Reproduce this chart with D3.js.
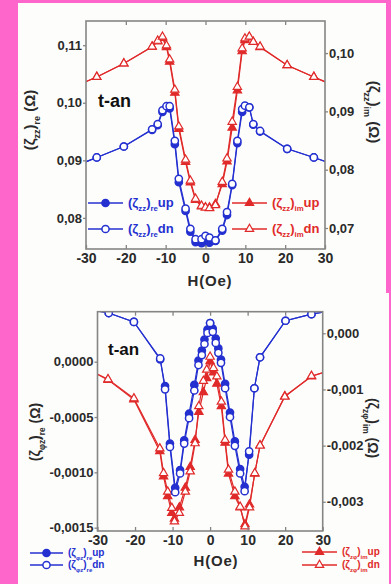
<!DOCTYPE html>
<html>
<head>
<meta charset="utf-8">
<script src="https://cdnjs.cloudflare.com/ajax/libs/d3/7.8.5/d3.min.js"></script>
<style>
body { margin: 0; background: #ff66cc; }
svg { display: block; }
text { font-family: "Liberation Sans", Arial, sans-serif; }
</style>
</head>
<body>
<svg width="391" height="584"></svg>
<script>
// ---- top chart: (zeta_zz) re / im vs H ----
var hTop = [-32, -27.3, -20.5, -13.4, -12, -10.8, -9.8, -9, -7.7, -6.7, -5, -3.8, -2.5, -1, 0, 1, 2.5, 4.2, 5.4, 6.7, 8, 9.2, 9.9, 11, 12, 13.7, 20.5, 27.2, 32];
var reDnTop = [0.0892, 0.0905, 0.0924, 0.0954, 0.0963, 0.0987, 0.0994, 0.0994, 0.0934, 0.0868, 0.0816, 0.0781, 0.0763, 0.0763, 0.0769, 0.0766, 0.0761, 0.0781, 0.0810, 0.0859, 0.0934, 0.0989, 0.0995, 0.0992, 0.0963, 0.0951, 0.0920, 0.0905, 0.0893];
var reUpTop = [0.0892, 0.0905, 0.0924, 0.0953, 0.0961, 0.0984, 0.0992, 0.0990, 0.0928, 0.0862, 0.0812, 0.0776, 0.0758, 0.0756, 0.0758, 0.0757, 0.0760, 0.0778, 0.0805, 0.0857, 0.0930, 0.0984, 0.0993, 0.0992, 0.0962, 0.0950, 0.0920, 0.0905, 0.0893];
var imDnTop = [0.0945, 0.0959, 0.0982, 0.1011, 0.1021, 0.1028, 0.1013, 0.0989, 0.0937, 0.0874, 0.0817, 0.0781, 0.0750, 0.0738, 0.0735, 0.0734, 0.0739, 0.0779, 0.0819, 0.0882, 0.0942, 0.1008, 0.1025, 0.1028, 0.1019, 0.1011, 0.0979, 0.0959, 0.0945];
var imUpTop = [0.0945, 0.0959, 0.0982, 0.1011, 0.1020, 0.1026, 0.1010, 0.0985, 0.0932, 0.0870, 0.0813, 0.0778, 0.0748, 0.0737, 0.0735, 0.0735, 0.0741, 0.0775, 0.0814, 0.0872, 0.0936, 0.1003, 0.1022, 0.1027, 0.1019, 0.1010, 0.0979, 0.0959, 0.0945];

// ---- bottom chart: (zeta_phiz) re / (zeta_zphi) im vs H ----
var hBotRe = [-32, -27, -20.3, -13.3, -12, -10.7, -9.3, -8, -6.9, -5.6, -4.2, -3.1, -2.2, -1.5, -0.7, 0, 0.7, 1.5, 2.2, 2.9, 4, 5.3, 6.6, 8, 9.2, 10.4, 11.8, 13.3, 20.1, 27, 32];
var reDnBot = [0.00047, 0.00044, 0.00036, 0.00003, -0.00025, -0.00077, -0.00118, -0.00101, -0.00074, -0.00051, -0.00026, -0.00003, 0.00006, 0.00016, 0.00026, 0.00035, 0.00027, 0.00017, 0.00008, -0.00001, -0.00024, -0.0005, -0.00076, -0.00101, -0.00117, -0.00081, -0.00024, 0.00004, 0.00037, 0.00043, 0.00046];
var reUpBot = [0.00047, 0.00044, 0.00036, 0.00002, -0.00022, -0.00074, -0.00114, -0.00098, -0.00071, -0.00047, -0.00021, 0.00001, 0.00010, 0.00020, 0.00029, 0.00035, 0.00030, 0.00021, 0.00012, 0.00002, -0.00020, -0.00046, -0.00072, -0.00097, -0.00113, -0.00084, -0.00024, 0.00004, 0.00037, 0.00043, 0.00046];
var hBotIm = [-32, -27.2, -20.3, -13.4, -12.4, -11.3, -10.2, -9.5, -8.2, -6.6, -5.3, -4, -3, -1.8, -0.9, 0, 0.9, 1.8, 3, 4, 4.9, 6.6, 8, 9.3, 10.5, 11.9, 13.3, 19.9, 27, 32];
var imDnBot = [-0.00066, -0.00082, -0.00116, -0.00205, -0.00249, -0.00282, -0.00311, -0.00335, -0.0032, -0.00282, -0.00246, -0.00196, -0.0013, -0.00085, -0.00065, -0.00042, -0.00062, -0.00077, -0.00122, -0.0019, -0.00243, -0.00282, -0.00309, -0.00344, -0.0031, -0.00249, -0.002, -0.00113, -0.00076, -0.00066];
var imUpBot = [-0.00066, -0.00083, -0.00118, -0.0021, -0.00255, -0.0029, -0.0032, -0.0033, -0.0031, -0.00275, -0.00238, -0.0019, -0.0014, -0.00105, -0.0008, -0.0005, -0.0007, -0.0009, -0.0013, -0.00195, -0.0025, -0.0029, -0.0031, -0.0034, -0.00305, -0.0025, -0.002, -0.00112, -0.00077, -0.00066];

// ---- ticks ----
var xTicks = [-30, -20, -10, 0, 10, 20, 30];
var topLeftTicks = [0.08, 0.09, 0.10, 0.11];
var topRightTicks = [0.07, 0.08, 0.09, 0.10];
var botLeftTicks = [0, -0.0005, -0.001, -0.0015];
var botRightTicks = [0, -0.001, -0.002, -0.003];

var blue = "#2430d0",
    red = "#e02a2a",
    frameCol = "#858585",
    labelCol = "#2a2a2a";

var loc = d3.formatLocale({decimal: ",", thousands: ".", grouping: [3], currency: ["", ""], minus: "-"});

var svg = d3.select("svg");

// white panels on the pink page
svg.append("rect").attr("x", 18).attr("y", 3).attr("width", 368).attr("height", 291).attr("fill", "#fdfdfb");
svg.append("rect").attr("x", 18).attr("y", 293).attr("width", 371).attr("height", 291).attr("fill", "#fdfdfb");

// text with subscripts; parts beginning with "_" are subscripts
function richText(g, x, y, parts, size, color, rot, anchor) {
  var t = g.append("text")
    .attr("transform", "translate(" + x + "," + y + ") rotate(" + rot + ")")
    .attr("text-anchor", anchor)
    .attr("fill", color)
    .attr("font-weight", "bold")
    .attr("font-size", size);
  var down = false;
  parts.forEach(function(p) {
    var sub = p.charAt(0) === "_";
    var dy = 0;
    if (sub && !down) dy = size * 0.35;
    if (!sub && down) dy = -size * 0.35;
    down = sub;
    t.append("tspan").attr("dy", dy).attr("font-size", sub ? size * 0.6 : size).text(sub ? p.slice(1) : p);
  });
  return t;
}

function marker(g, shape, filled, color, x, y) {
  if (shape === "circle") {
    g.append("circle").attr("cx", x).attr("cy", y).attr("r", 3.6)
      .attr("fill", filled ? color : "#fff").attr("stroke", color).attr("stroke-width", 1.5);
  } else {
    g.append("path").attr("d", d3.symbol().type(d3.symbolTriangle).size(30)())
      .attr("transform", "translate(" + x + "," + y + ")")
      .attr("fill", filled ? color : "#fff").attr("stroke", color).attr("stroke-width", 1.2);
  }
}

function drawSeries(g, x, y, hs, vals, color, shape, filled) {
  var pts = hs.map(function(h, i) { return [h, vals[i]]; });
  var line = d3.line()
    .x(function(d) { return x(d[0]); })
    .y(function(d) { return y(d[1]); });
  g.append("path").datum(pts)
    .attr("d", line)
    .attr("fill", "none")
    .attr("stroke", color)
    .attr("stroke-width", 1.2);
  pts.forEach(function(d) {
    marker(g, shape, filled, color, x(d[0]), y(d[1]));
  });
}

function styleAxis(a) {
  a.select(".domain").remove();
  a.selectAll(".tick line").attr("stroke", frameCol).attr("stroke-width", 1.3);
  a.selectAll(".tick text")
    .attr("fill", labelCol)
    .attr("font-size", 13)
    .attr("font-weight", "bold")
    .style("font-family", "'Liberation Sans', Arial, sans-serif");
}

function panel(c) {
  var x = d3.scaleLinear().domain([-30, 30]).range([c.left, c.right]);
  var yl = d3.scaleLinear().domain(c.leftDomain).range([c.bottom, c.top]);
  var yr = d3.scaleLinear().domain(c.rightDomain).range([c.bottom, c.top]);

  svg.append("clipPath").attr("id", c.id)
    .append("rect").attr("x", c.left).attr("y", c.top)
    .attr("width", c.right - c.left).attr("height", c.bottom - c.top);

  // filled (up) first, open (dn) on top
  var plot = svg.append("g").attr("clip-path", "url(#" + c.id + ")");
  drawSeries(plot, x, yr, c.imH, c.imUp, red, "tri", true);
  drawSeries(plot, x, yr, c.imH, c.imDn, red, "tri", false);
  drawSeries(plot, x, yl, c.reH, c.reUp, blue, "circle", true);
  drawSeries(plot, x, yl, c.reH, c.reDn, blue, "circle", false);

  // frame
  svg.append("rect").attr("x", c.left).attr("y", c.top)
    .attr("width", c.right - c.left).attr("height", c.bottom - c.top)
    .attr("fill", "none").attr("stroke", frameCol).attr("stroke-width", 1.6);

  var ax = svg.append("g").attr("transform", "translate(0," + c.bottom + ")")
    .call(d3.axisBottom(x).tickValues(xTicks).tickSizeInner(-4).tickSizeOuter(0).tickPadding(4)
      .tickFormat(loc.format("d")));
  styleAxis(ax);
  ax.selectAll(".tick text").attr("font-size", 14);

  var at = svg.append("g").attr("transform", "translate(0," + c.top + ")")
    .call(d3.axisTop(x).tickValues([-20, -10, 0, 10, 20]).tickSizeInner(-4).tickSizeOuter(0).tickFormat(""));
  styleAxis(at);

  var al = svg.append("g").attr("transform", "translate(" + c.left + ",0)")
    .call(d3.axisLeft(yl).tickValues(c.leftTicks).tickSizeInner(3).tickSizeOuter(0).tickPadding(1)
      .tickFormat(loc.format(c.leftFmt)));
  styleAxis(al);

  var ar = svg.append("g").attr("transform", "translate(" + c.right + ",0)")
    .call(d3.axisRight(yr).tickValues(c.rightTicks).tickSizeInner(3).tickSizeOuter(0).tickPadding(1)
      .tickFormat(loc.format(c.rightFmt)));
  styleAxis(ar);

  richText(svg, c.xLabel[0], c.xLabel[1], ["H(Oe)"], 15, labelCol, 0, "middle")
    .attr("letter-spacing", 0.8);
  richText(svg, c.tag[0], c.tag[1], ["t-an"], c.tag[2], "#111", 0, "start");
  richText(svg, c.leftLab[0], c.leftLab[1], c.leftLab[2], c.leftLab[3], labelCol, -90, "middle");
  richText(svg, c.rightLab[0], c.rightLab[1], c.rightLab[2], c.rightLab[3], labelCol, 90, "middle");

  // legends
  c.legend.forEach(function(l) {
    svg.append("line").attr("x1", l.x1).attr("x2", l.x2).attr("y1", l.y).attr("y2", l.y)
      .attr("stroke", l.color).attr("stroke-width", 1.3);
    marker(svg, l.shape, l.filled, l.color, (l.x1 + l.x2) / 2, l.y);
    richText(svg, l.x2 + 5, l.y + l.size * 0.3, l.parts, l.size, l.color, 0, "start");
  });
}

panel({
  id: "clipTop", left: 86, right: 325, top: 21, bottom: 249,
  leftDomain: [0.0746, 0.1142], rightDomain: [0.0664, 0.1055],
  leftTicks: topLeftTicks, rightTicks: topRightTicks, leftFmt: ".2f", rightFmt: ".2f",
  reH: hTop, reDn: reDnTop, reUp: reUpTop, imH: hTop, imDn: imDnTop, imUp: imUpTop,
  xLabel: [210, 286], tag: [98, 107, 18],
  leftLab: [35, 120, ["(ζ", "_zz", ")", "_re", " (Ω)"], 15],
  rightLab: [369, 112, ["(ζ", "_zz", ")", "_im", " (Ω)"], 15],
  legend: [
    {x1: 88, x2: 123, y: 203, color: blue, shape: "circle", filled: true, size: 13, parts: ["(ζ", "_zz", ")", "_re", "up"]},
    {x1: 88, x2: 123, y: 229, color: blue, shape: "circle", filled: false, size: 13, parts: ["(ζ", "_zz", ")", "_re", "dn"]},
    {x1: 232, x2: 267, y: 203, color: red, shape: "tri", filled: true, size: 13, parts: ["(ζ", "_zz", ")", "_im", "up"]},
    {x1: 232, x2: 267, y: 229, color: red, shape: "tri", filled: false, size: 13, parts: ["(ζ", "_zz", ")", "_im", "dn"]}
  ]
});

panel({
  id: "clipBot", left: 97.5, right: 322.7, top: 311.7, bottom: 531,
  leftDomain: [-0.00153, 0.000452], rightDomain: [-0.00352, 0.000384],
  leftTicks: botLeftTicks, rightTicks: botRightTicks, leftFmt: ".4f", rightFmt: ".3f",
  reH: hBotRe, reDn: reDnBot, reUp: reUpBot, imH: hBotIm, imDn: imDnBot, imUp: imUpBot,
  xLabel: [216, 566], tag: [108, 355, 17],
  leftLab: [40, 432, ["(ζ", "_φz", ")", "_re", " (Ω)"], 14],
  rightLab: [368, 428, ["(ζ", "_zφ", ")", "_im", " (Ω)"], 14],
  legend: [
    {x1: 30, x2: 63, y: 553, color: blue, shape: "circle", filled: true, size: 10, parts: ["(ζ", "_φz", ")", "_re", "up"]},
    {x1: 30, x2: 63, y: 565, color: blue, shape: "circle", filled: false, size: 10, parts: ["(ζ", "_φz", ")", "_re", "dn"]},
    {x1: 302, x2: 337, y: 552, color: red, shape: "tri", filled: true, size: 10, parts: ["(ζ", "_zφ", ")", "_im", "up"]},
    {x1: 302, x2: 337, y: 565, color: red, shape: "tri", filled: false, size: 10, parts: ["(ζ", "_zφ", ")", "_im", "dn"]}
  ]
});
</script>
</body>
</html>
